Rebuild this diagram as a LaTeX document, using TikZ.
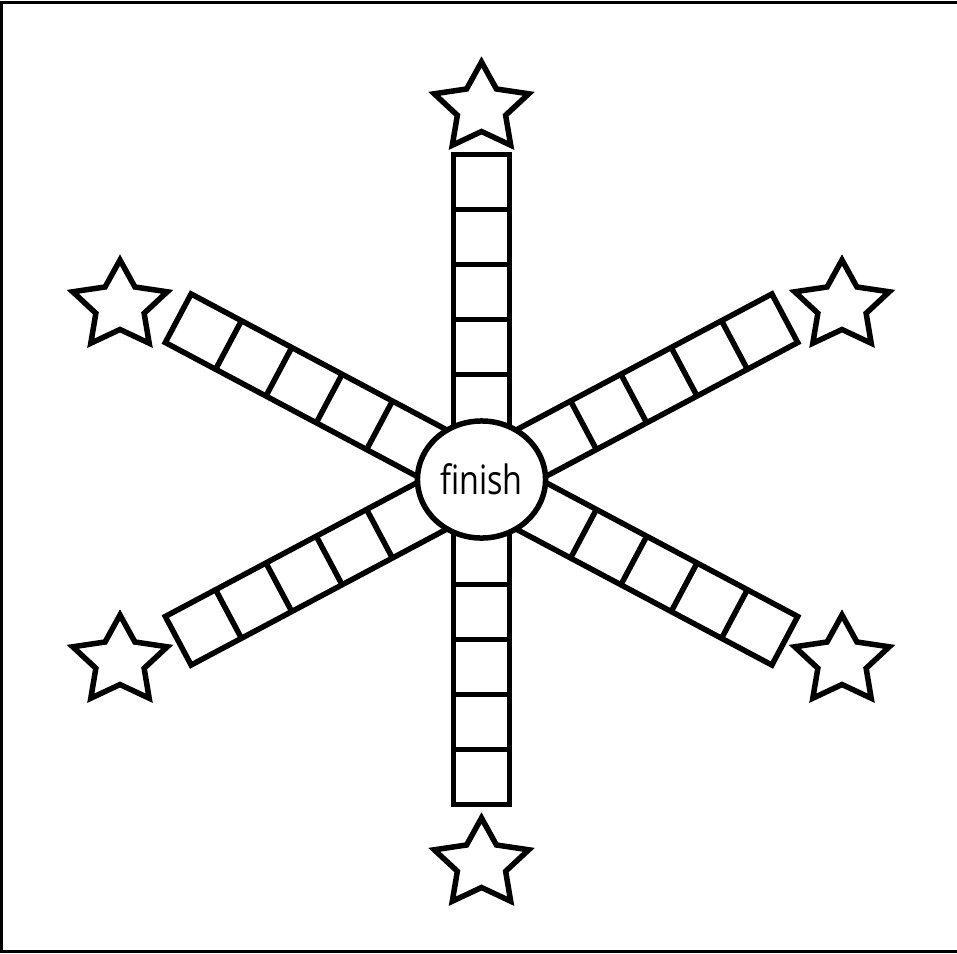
\documentclass[tikz,border=0pt]{standalone}
\usepackage{fontspec}
\setsansfont{Open Sans}
\usetikzlibrary{shapes.geometric}

\begin{document}
\begin{tikzpicture}[
    x=0.01cm, y=0.01cm,
    cell/.style={draw, line width=0.055cm, line join=miter},
    goal/.pic={\draw[line width=0.055cm, line join=miter]
        (90:46) \foreach \k in {1,...,9}{-- ({90+36*\k}:{ifthenelse(mod(\k,2)==1,23.5,46)})} -- cycle;}
]

\useasboundingbox (0,0) rectangle (957,953);
\draw[line width=0.03cm] (1.5,1.5) rectangle (958,950.5);

\coordinate (ctr) at (481.5,473.5);

% vertical arms
\foreach \a in {90,270}{
  \begin{scope}[shift={(ctr)}, rotate=\a]
    \draw[cell] (0,-28) rectangle (325,28);
    \foreach \k in {1,...,4} \draw[cell] ({325-55*\k},-28) -- ++(0,56);
  \end{scope}}

% slanted arms
\foreach \a in {28,152,208,332}{
  \begin{scope}[shift={(ctr)}, rotate=\a]
    \draw[cell] (0,-27.5) rectangle (343.5,27.5);
    \foreach \k in {1,...,4} \draw[cell] ({343.5-57*\k},-27.5) -- ++(0,55);
  \end{scope}}

\node[ellipse, draw, fill=white, line width=0.055cm, inner sep=0pt,
      minimum width=1.28cm, minimum height=1.17cm] (finish) at (ctr)
      {\fontsize{11.5}{12}\selectfont\sffamily\scalebox{0.8}[1]{finish}};

% stars at the arm ends
\pic[xscale=1.08] (top)  at (481.5,845)  {goal};
\pic[xscale=1.08] (bot)  at (481.5,89)   {goal};
\pic[xscale=1.08] (ul)   at (120,647)    {goal};
\pic[xscale=1.08] (ur)   at (842,647)    {goal};
\pic[xscale=1.08] (ll)   at (120,292)    {goal};
\pic[xscale=1.08] (lr)   at (842,292)    {goal};

\end{tikzpicture}
\end{document}
